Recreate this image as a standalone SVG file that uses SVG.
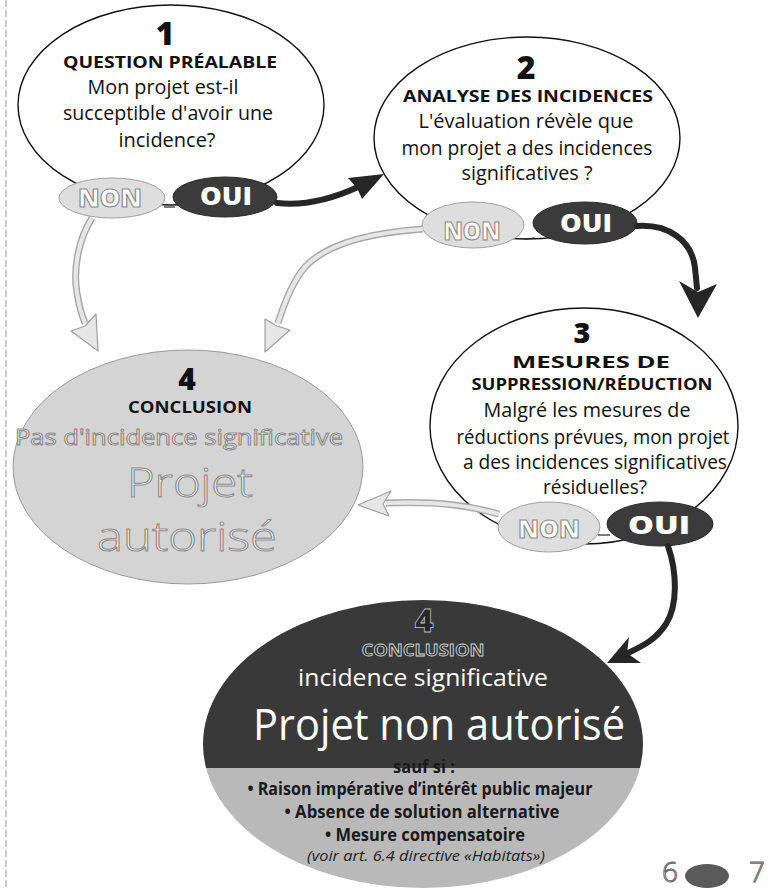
<svg xmlns="http://www.w3.org/2000/svg" width="771" height="889" viewBox="0 0 771 889">
<style>
  .bubble { fill: #ffffff; stroke: #111; stroke-width: 1.4; }
  .num { font-family: "Open Sans", Lato, sans-serif; font-weight: 800; fill: #111; text-anchor: middle; }
  .title { font-family: "Open Sans", sans-serif; font-weight: 700; fill: #111; text-anchor: middle; font-size: 16px; }
  .body { font-family: "Open Sans", sans-serif; font-weight: 400; fill: #111; text-anchor: middle; font-size: 20px; }
  .oui-bg { fill: #3b3b3b; stroke: #2a2a2a; stroke-width: 1; }
  .non-bg { fill: #dedede; stroke: #a0a0a0; stroke-width: 1; }
  .oui-t { font-family: "Open Sans", Lato, sans-serif; font-weight: 800; fill: #fff; font-size: 24px; text-anchor: middle; }
  .non-t { font-family: "Open Sans", Lato, sans-serif; font-weight: 800; fill: #fff; stroke: #8a8a8a; stroke-width: 1.1; font-size: 25px; text-anchor: middle; }
  .tie { stroke: #222; stroke-width: 1.2; }
  .yes { fill: none; stroke: #262626; stroke-width: 6; stroke-linecap: round; }
  .yes-head { fill: #262626; }
  .no-out { fill: none; stroke: #a6a6a6; stroke-width: 7; }
  .no-in { fill: none; stroke: #e6e6e6; stroke-width: 4.2; }
  .no-head { fill: #e6e6e6; stroke: #a0a0a0; stroke-width: 1.2; stroke-linejoin: round; }
  .ghost { font-family: "Open Sans", sans-serif; fill: #fafafa; stroke: #8c8c8c; stroke-width: 1; text-anchor: middle; }
  .white { font-family: "Open Sans", sans-serif; fill: #fff; text-anchor: middle; }
  .cond { font-family: "Open Sans", sans-serif; font-weight: 700; fill: #1a1a1a; text-anchor: middle; font-size: 17px; }
</style>
<defs>
  <clipPath id="clip5"><ellipse cx="423" cy="744" rx="220" ry="144"/></clipPath>
</defs>

<!-- page edge -->
<line x1="6" y1="0" x2="6" y2="889" stroke="#9a9a9a" stroke-width="1" stroke-dasharray="7 3"/>

<!-- Node 1 -->
<g id="node1">
  <ellipse class="bubble" cx="171" cy="105" rx="153" ry="100"/>
  <text class="num" x="165" y="45" font-size="32">1</text>
  <text class="title" x="170" y="68" textLength="214" lengthAdjust="spacingAndGlyphs">QUESTION PRÉALABLE</text>
  <text class="body" x="163" y="94" textLength="151" lengthAdjust="spacingAndGlyphs">Mon projet est-il</text>
  <text class="body" x="168" y="120" textLength="210" lengthAdjust="spacingAndGlyphs">succeptible d'avoir une</text>
  <text class="body" x="167" y="147" textLength="97" lengthAdjust="spacingAndGlyphs">incidence?</text>
  <line class="tie" x1="164" y1="207" x2="175" y2="207"/>
  <ellipse class="non-bg" cx="112" cy="198" rx="53" ry="20"/>
  <text class="non-t" x="110" y="207" textLength="64" lengthAdjust="spacingAndGlyphs">NON</text>
  <ellipse class="oui-bg" cx="225" cy="197" rx="52" ry="20"/>
  <text class="oui-t" x="226" y="205" textLength="52" lengthAdjust="spacingAndGlyphs">OUI</text>
</g>

<!-- Node 2 -->
<g id="node2">
  <ellipse class="bubble" cx="527" cy="138" rx="153" ry="101"/>
  <text class="num" x="526" y="79" font-size="32">2</text>
  <text class="title" x="528" y="102" textLength="250" lengthAdjust="spacingAndGlyphs">ANALYSE DES INCIDENCES</text>
  <text class="body" x="526" y="128" textLength="215" lengthAdjust="spacingAndGlyphs">L'évaluation révèle que</text>
  <text class="body" x="527" y="155" textLength="251" lengthAdjust="spacingAndGlyphs">mon projet a des incidences</text>
  <text class="body" x="527" y="180" textLength="131" lengthAdjust="spacingAndGlyphs">significatives ?</text>
  <line class="tie" x1="524" y1="239" x2="535" y2="238"/>
  <ellipse class="non-bg" cx="473" cy="225" rx="51" ry="23"/>
  <text class="non-t" x="472" y="240" textLength="57" lengthAdjust="spacingAndGlyphs">NON</text>
  <ellipse class="oui-bg" cx="585" cy="223" rx="52" ry="21"/>
  <text class="oui-t" x="586" y="232" textLength="52" lengthAdjust="spacingAndGlyphs">OUI</text>
</g>

<!-- Node 3 -->
<g id="node3">
  <ellipse class="bubble" cx="584" cy="426" rx="154" ry="118"/>
  <text class="num" x="582" y="343" font-size="29">3</text>
  <text class="title" x="591" y="368" textLength="158" lengthAdjust="spacingAndGlyphs">MESURES DE</text>
  <text class="title" x="592" y="390" textLength="241" lengthAdjust="spacingAndGlyphs">SUPPRESSION/RÉDUCTION</text>
  <text class="body" x="587" y="417" textLength="207" lengthAdjust="spacingAndGlyphs">Malgré les mesures de</text>
  <text class="body" x="593" y="444" textLength="273" lengthAdjust="spacingAndGlyphs">réductions prévues, mon projet</text>
  <text class="body" x="595" y="469" textLength="264" lengthAdjust="spacingAndGlyphs">a des incidences significatives</text>
  <text class="body" x="595" y="494" textLength="104" lengthAdjust="spacingAndGlyphs">résiduelles?</text>
  <line class="tie" x1="598" y1="535" x2="610" y2="535"/>
  <ellipse class="non-bg" cx="549" cy="527" rx="51" ry="25"/>
  <text class="non-t" x="549" y="538" textLength="62" lengthAdjust="spacingAndGlyphs">NON</text>
  <ellipse class="oui-bg" cx="660" cy="524" rx="53" ry="22"/>
  <text class="oui-t" x="659" y="534" textLength="62" lengthAdjust="spacingAndGlyphs">OUI</text>
</g>

<!-- Node 4a : Conclusion, project authorised -->
<g id="node4a">
  <ellipse cx="188" cy="467" rx="175" ry="117" fill="#d4d4d4" stroke="#9a9a9a" stroke-width="1"/>
  <text class="num" x="187" y="390" font-size="30">4</text>
  <text class="title" x="190" y="413" font-size="15" textLength="124" lengthAdjust="spacingAndGlyphs">CONCLUSION</text>
  <text class="ghost" x="179" y="445" font-size="21" textLength="328" lengthAdjust="spacingAndGlyphs">Pas d'incidence significative</text>
  <text class="ghost" x="190" y="497" font-size="40" font-weight="300" textLength="126" lengthAdjust="spacingAndGlyphs">Projet</text>
  <text class="ghost" x="187" y="551" font-size="40" font-weight="300" textLength="180" lengthAdjust="spacingAndGlyphs">autorisé</text>
</g>

<!-- Node 4b : Conclusion, project not authorised -->
<g id="node4b">
  <g clip-path="url(#clip5)">
    <rect x="200" y="598" width="448" height="170" fill="#393939"/>
    <rect x="200" y="768" width="448" height="124" fill="#b9b9b9"/>
  </g>
  <text class="num" x="424" y="632" font-size="32" stroke="#bdbdbd" stroke-width="0.8" style="fill:#262626">4</text>
  <text class="title" x="423" y="656" font-size="15" textLength="123" lengthAdjust="spacingAndGlyphs" style="fill:#2e2e2e" stroke="#d8d8d8" stroke-width="0.8">CONCLUSION</text>
  <text class="white" x="423" y="686" font-size="24" textLength="250" lengthAdjust="spacingAndGlyphs">incidence significative</text>
  <text class="white" x="439" y="740" font-size="44" textLength="372" lengthAdjust="spacingAndGlyphs">Projet non autorisé</text>
  <text class="cond" x="424" y="773" textLength="62" lengthAdjust="spacingAndGlyphs">sauf si :</text>
  <text class="cond" x="420" y="795" textLength="345" lengthAdjust="spacingAndGlyphs">• Raison impérative d’intérêt public majeur</text>
  <text class="cond" x="422" y="818" textLength="275" lengthAdjust="spacingAndGlyphs">• Absence de solution alternative</text>
  <text class="cond" x="425" y="841" textLength="200" lengthAdjust="spacingAndGlyphs">• Mesure compensatoire</text>
  <text x="426" y="861" font-family="'Open Sans', sans-serif" font-style="italic" font-size="14" fill="#222" text-anchor="middle" textLength="238" lengthAdjust="spacingAndGlyphs">(voir art. 6.4 directive «Habitats»)</text>
</g>

<!-- Connectors -->
<g id="connectors">
  <!-- OUI 1 -> node 2 -->
  <path class="yes" d="M277,203 C305,206 330,200 358,187"/>
  <polygon class="yes-head" points="384,174 362,199 357,188 348,178"/>
  <!-- OUI 2 -> node 3 -->
  <path class="yes" d="M637,226 C668,224 692,240 695,268 L697,288"/>
  <polygon class="yes-head" points="698,318 679,281 698,292 717,284"/>
  <!-- OUI 3 -> node 4b -->
  <path class="yes" d="M668,546 C677,572 678,605 666,624 C656,639 645,645 628,653"/>
  <polygon class="yes-head" points="607,663 629,637 627,653 641,663"/>

  <!-- NON 1 -> node 4a -->
  <path class="no-out" d="M92,218 C78,240 73,270 77,293 C79,306 82,316 85,323"/>
  <path class="no-in" d="M92,218 C78,240 73,270 77,293 C79,306 82,316 85,323"/>
  <polygon class="no-head" points="98,351 71,331 85,326 96,314"/>
  <!-- NON 2 -> node 4a -->
  <path class="no-out" d="M423,229 C380,232 330,240 305,267 C292,282 284,304 278,323"/>
  <path class="no-in" d="M423,229 C380,232 330,240 305,267 C292,282 284,304 278,323"/>
  <polygon class="no-head" points="265,352 265,319 277,326 290,330"/>
  <!-- NON 3 -> node 4a -->
  <path class="no-out" d="M499,514 C470,506 440,501 386,503"/>
  <path class="no-in" d="M499,514 C470,506 440,501 386,503"/>
  <polygon class="no-head" points="358,505 391,491 383,504 389,516"/>
</g>

<!-- page numbers -->
<g id="folio">
  <text x="670" y="882" font-family="'Open Sans', sans-serif" font-weight="300" font-size="28" fill="#fff" stroke="#666" stroke-width="1" text-anchor="middle">6</text>
  <ellipse cx="707" cy="876" rx="22" ry="12" fill="#5a5a5a"/>
  <text x="757" y="882" font-family="'Open Sans', sans-serif" font-weight="300" font-size="28" fill="#fff" stroke="#666" stroke-width="1" text-anchor="middle">7</text>
</g>
</svg>
